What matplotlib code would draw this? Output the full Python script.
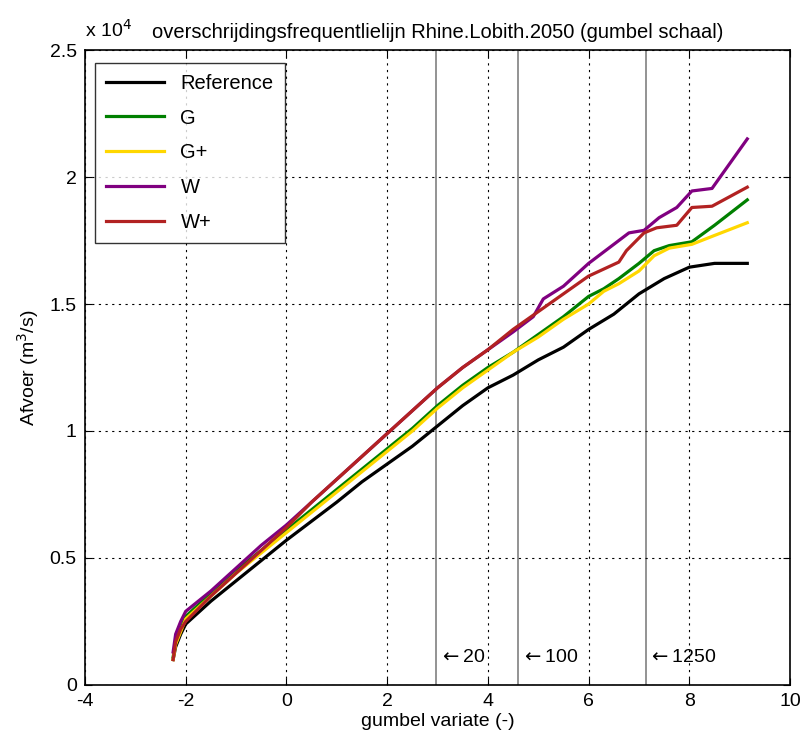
import numpy as np
import matplotlib
matplotlib.use("Agg")
import matplotlib.pyplot as plt

plt.rcParams['font.family'] = ['Liberation Sans', 'DejaVu Sans']
plt.rcParams['axes.unicode_minus'] = False

# discharge in units of 1e4 m3/s, x = gumbel variate
ref_x = [-2.25, -2.2, -2.1, -2.0, -1.5, -1.0, -0.5, 0, 0.5, 1, 1.5, 2, 2.5, 3, 3.5, 4,
         4.5, 5, 5.5, 6, 6.5, 7, 7.5, 8, 8.5, 9.15]
ref_y = [0.10, 0.15, 0.20, 0.24, 0.33, 0.41, 0.49, 0.57, 0.645, 0.72, 0.80, 0.87, 0.94,
         1.02, 1.10, 1.17, 1.22, 1.28, 1.33, 1.40, 1.46, 1.54, 1.60, 1.645, 1.66, 1.66]

g_x = [-2.25, -2.2, -2.1, -2.0, -1.5, -1.0, -0.5, 0, 0.5, 1, 1.5, 2, 2.5, 3, 3.5, 4,
       4.5, 5, 5.5, 6, 6.3, 6.6, 7.0, 7.3, 7.6, 8.05, 8.5, 9.15]
g_y = [0.11, 0.17, 0.22, 0.27, 0.36, 0.45, 0.53, 0.61, 0.69, 0.77, 0.85, 0.93, 1.01,
       1.10, 1.18, 1.25, 1.31, 1.38, 1.45, 1.53, 1.56, 1.60, 1.66, 1.71, 1.73, 1.745,
       1.81, 1.91]

gp_x = g_x
gp_y = [0.10, 0.16, 0.21, 0.26, 0.35, 0.44, 0.52, 0.60, 0.68, 0.76, 0.84, 0.92, 1.00,
        1.09, 1.17, 1.24, 1.31, 1.37, 1.44, 1.50, 1.55, 1.58, 1.63, 1.69, 1.72, 1.735,
        1.77, 1.82]

w_x = [-2.25, -2.2, -2.1, -2.0, -1.5, -1.0, -0.5, 0, 0.5, 1, 1.5, 2, 2.5, 3, 3.5, 4,
       4.5, 4.9, 5.1, 5.5, 6.0, 6.4, 6.8, 7.1, 7.4, 7.75, 8.05, 8.45, 9.15]
w_y = [0.13, 0.20, 0.25, 0.29, 0.37, 0.46, 0.55, 0.63, 0.72, 0.81, 0.90, 0.99, 1.08,
       1.17, 1.25, 1.32, 1.39, 1.45, 1.52, 1.57, 1.66, 1.72, 1.78, 1.79, 1.84, 1.88,
       1.945, 1.955, 2.15]

wp_x = [-2.25, -2.2, -2.1, -2.0, -1.5, -1.0, -0.5, 0, 0.5, 1, 1.5, 2, 2.5, 3, 3.5, 4,
        4.5, 5, 5.5, 6.0, 6.6, 6.75, 7.1, 7.35, 7.75, 8.05, 8.45, 9.15]
wp_y = [0.10, 0.17, 0.22, 0.25, 0.35, 0.44, 0.53, 0.62, 0.72, 0.81, 0.90, 0.99, 1.08,
        1.17, 1.25, 1.32, 1.40, 1.47, 1.54, 1.61, 1.665, 1.71, 1.78, 1.80, 1.81, 1.88,
        1.885, 1.96]

return_periods = [20, 100, 1250]
rp_x = [2.97, 4.60, 7.13]

fig = plt.figure(figsize=(8.04, 7.51), dpi=100)
ax = fig.add_axes([0.1057, 0.0879, 0.877, 0.8455])

series = [
    ("Reference", ref_x, ref_y, "black"),
    ("G", g_x, g_y, "#008000"),
    ("G+", gp_x, gp_y, "#FFD700"),
    ("W", w_x, w_y, "#800080"),
    ("W+", wp_x, wp_y, "#B22222"),
]
for name, xs, ys, c in series:
    ax.plot(xs, ys, color=c, linewidth=2.3, label=name)

# return period markers
for rp, xv in zip(return_periods, rp_x):
    ax.axvline(xv, color="#808080", linewidth=1.2, zorder=1)
    ax.text(xv + 0.05, 0.11, r"$\leftarrow$" + str(rp), fontsize=14, va="center", ha="left")

ax.set_xlim(-4, 10)
ax.set_ylim(0, 2.5)
ax.set_xticks(np.arange(-4, 11, 2))
ax.set_yticks([0, 0.5, 1, 1.5, 2, 2.5])
ax.set_yticklabels(["0", "0.5", "1", "1.5", "2", "2.5"])
ax.grid(True, color="black", linestyle=(0, (2, 4)), linewidth=0.8)
ax.tick_params(direction="in", top=True, right=True, labelsize=14, length=5, pad=6)
for s in ax.spines.values():
    s.set_linewidth(1.2)

ax.set_xlabel("gumbel variate (-)", fontsize=14, labelpad=2)
ax.set_ylabel("Afvoer (m$^3$/s)", fontsize=14, labelpad=6)
ax.set_title("overschrijdingsfrequentlielijn Rhine.Lobith.2050 (gumbel schaal)",
             fontsize=14.5, pad=9, x=0.5)
ax.text(0.0, 1.015, "x 10$^4$", transform=ax.transAxes, fontsize=14, ha="left", va="bottom")

leg = ax.legend(loc="upper left", fontsize=14.5, frameon=True, fancybox=False,
                edgecolor="black", handlelength=2.9, borderpad=0.55, labelspacing=0.78,
                borderaxespad=0, bbox_to_anchor=(0.014, 0.98))
leg.get_frame().set_linewidth(1.0)

fig.savefig("out.png", dpi=100)
